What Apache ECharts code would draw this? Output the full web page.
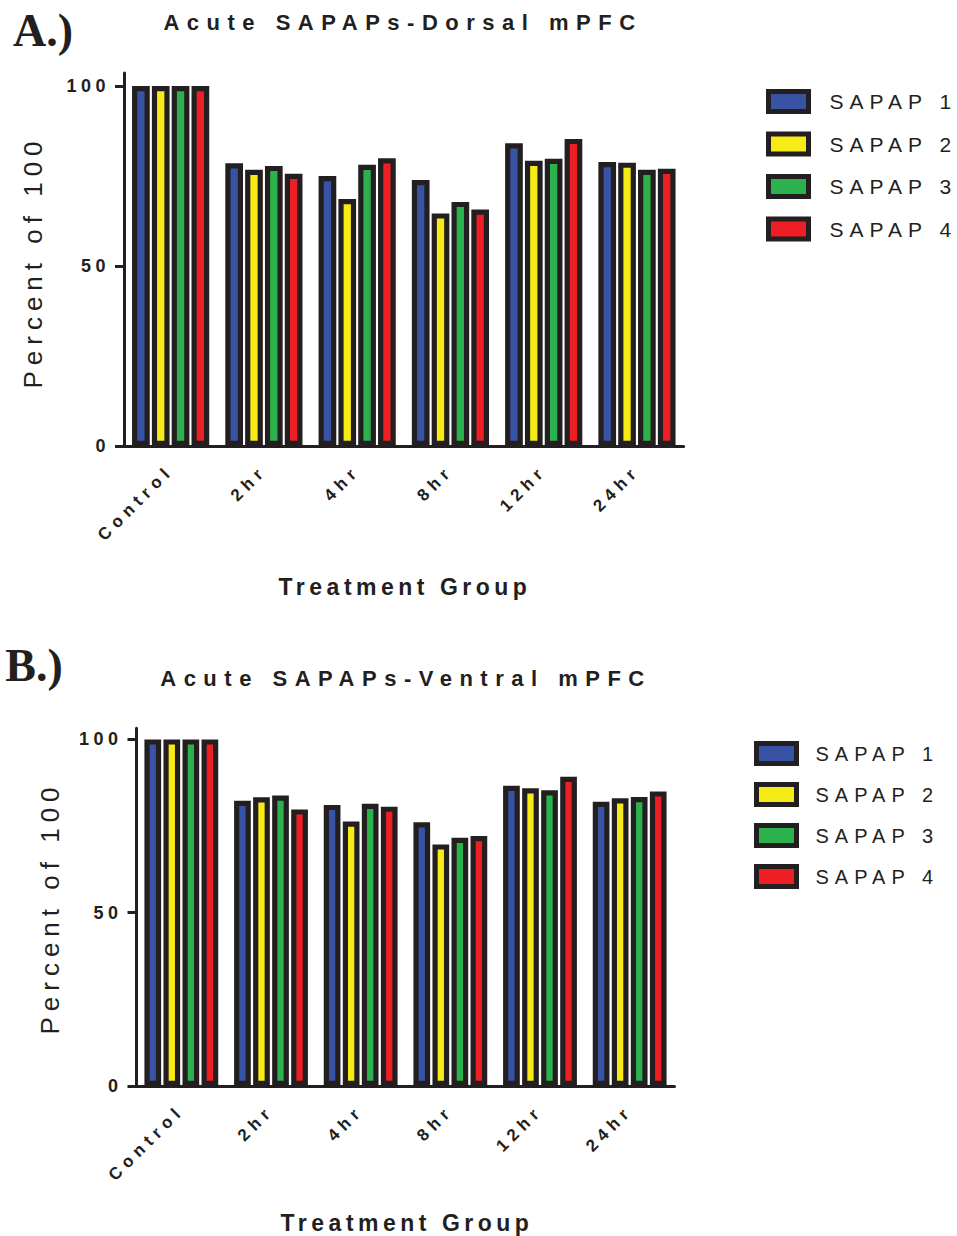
<!DOCTYPE html>
<html>
<head>
<meta charset="utf-8">
<script src="https://cdn.jsdelivr.net/npm/echarts@6/dist/echarts.min.js"></script>
<style>
html, body { margin: 0; padding: 0; background: #fff; }
#chart { width: 957px; height: 1236px; }
/* GraphPad style tracking, picked per font size */
#chart text[style*="22px"] { letter-spacing: 7.5px; }
#chart text[style*="23px"] { letter-spacing: 4.5px; }
#chart text[style*="26px"] { letter-spacing: 6px; }
#chart text[style*="21px"] { letter-spacing: 6px; }
#chart text[style*="20px"] { letter-spacing: 6px; }
#chart text[style*="18px"] { letter-spacing: 4.5px; }
#chart text[style*="17px"] { letter-spacing: 5.5px; }
</style>
</head>
<body>
<div id="chart"></div>
<script>
var groups = ['Control', '2hr', '4hr', '8hr', '12hr', '24hr'];
var names = ['SAPAP 1', 'SAPAP 2', 'SAPAP 3', 'SAPAP 4'];
var yTicks = [0, 50, 100];

// A.) dorsal mPFC
var dorsal1 = [100, 78.5, 75.0, 73.9, 84.1, 78.9];
var dorsal2 = [100, 76.7, 68.6, 64.6, 79.2, 78.7];
var dorsal3 = [100, 77.8, 78.1, 67.8, 79.8, 76.7];
var dorsal4 = [100, 75.6, 79.9, 65.7, 85.3, 77.0];

// B.) ventral mPFC
var ventral1 = [100, 82.3, 81.1, 76.1, 86.6, 82.0];
var ventral2 = [100, 83.3, 76.3, 69.7, 85.9, 83.0];
var ventral3 = [100, 83.8, 81.4, 71.6, 85.3, 83.4];
var ventral4 = [100, 79.8, 80.6, 72.1, 89.2, 85.0];

var colors = ['#3953a4', '#f6eb16', '#2bb24c', '#ed1f24'];
var ink = '#231f20';
var sans = 'Liberation Sans';

var dorsal = [dorsal1, dorsal2, dorsal3, dorsal4];
var ventral = [ventral1, ventral2, ventral3, ventral4];

function makeX(idx) {
    return {
        type: 'category',
        gridIndex: idx,
        data: groups,
        axisLine: { lineStyle: { color: ink, width: 3 } },
        axisTick: { alignWithLabel: true, length: 9, lineStyle: { color: ink, width: 3 } },
        axisLabel: {
            interval: 0,
            rotate: 45,
            margin: 22,
            color: ink,
            fontFamily: sans,
            fontWeight: 'bold',
            fontSize: 17
        }
    };
}

function makeY(idx, max) {
    return {
        type: 'value',
        gridIndex: idx,
        min: 0,
        max: max,
        interval: 50,
        splitLine: { show: false },
        axisLine: { show: true, lineStyle: { color: ink, width: 3 } },
        axisTick: { show: true, length: 9, customValues: yTicks, lineStyle: { color: ink, width: 3 } },
        axisLabel: {
            customValues: yTicks,
            margin: 14,
            color: ink,
            fontFamily: sans,
            fontWeight: 'bold',
            fontSize: 18
        }
    };
}

var series = [];
names.forEach(function (n, i) {
    series.push({
        name: n, type: 'bar', xAxisIndex: 0, yAxisIndex: 0,
        barWidth: 17.7, barGap: '12%',
        itemStyle: { color: colors[i], borderColor: ink, borderWidth: 5.2 },
        data: dorsal[i]
    });
});
names.forEach(function (n, i) {
    series.push({
        name: n, type: 'bar', xAxisIndex: 1, yAxisIndex: 1,
        barWidth: 16.7, barGap: '14%',
        itemStyle: { color: colors[i], borderColor: ink, borderWidth: 5.2 },
        data: ventral[i]
    });
});

function makeLegend(left, top, gap, size, pad) {
    return {
        orient: 'vertical',
        left: left,
        top: top,
        itemWidth: 40,
        itemHeight: 20,
        itemGap: gap,
        data: names,
        icon: 'rect',
        itemStyle: { borderColor: ink, borderWidth: 5 },
        textStyle: { color: ink, fontFamily: sans, fontSize: size, lineHeight: 22, padding: [0, 0, 0, pad] }
    };
}

function txt(text, x, y, size, weight, family, rot) {
    return {
        type: 'text',
        x: x, y: y,
        rotation: rot || 0,
        style: {
            text: text,
            fontSize: size,
            fontWeight: weight,
            fontFamily: family,
            fill: ink,
            textAlign: 'center',
            textVerticalAlign: 'middle'
        }
    };
}

var option = {
    animation: false,
    grid: [
        { left: 124, top: 73, width: 559.6, height: 373 },
        { left: 136.5, top: 728.3, width: 538, height: 357.7 }
    ],
    xAxis: [makeX(0), makeX(1)],
    yAxis: [makeY(0, 103.6), makeY(1, 103.2)],
    legend: [
        makeLegend(761, 84, 17.5, 21, 16),
        makeLegend(749, 736, 16, 20, 14)
    ],
    graphic: [
        txt('A.)', 43, 30, 46, 'bold', 'Liberation Serif'),
        txt('B.)', 34, 665, 46, 'bold', 'Liberation Serif'),
        txt('Acute SAPAPs-Dorsal mPFC', 403, 22, 22, 'bold', sans),
        txt('Acute SAPAPs-Ventral mPFC', 406, 678, 22, 'bold', sans),
        txt('Percent of 100', 33, 262, 26, 'normal', sans, Math.PI / 2),
        txt('Percent of 100', 50, 908, 26, 'normal', sans, Math.PI / 2),
        txt('Treatment Group', 405, 587, 23, 'bold', sans),
        txt('Treatment Group', 407, 1223, 23, 'bold', sans)
    ],
    series: series
};

var chart = echarts.init(document.getElementById('chart'), null, { renderer: 'svg' });
chart.setOption(option);
</script>
</body>
</html>
